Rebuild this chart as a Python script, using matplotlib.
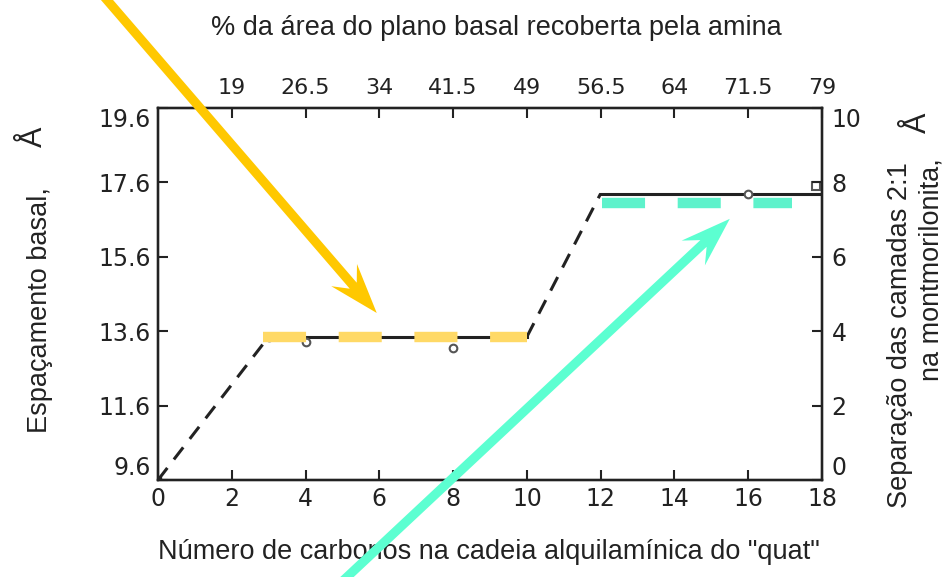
import numpy as np
import matplotlib
matplotlib.use("Agg")
import matplotlib.pyplot as plt
from matplotlib.patches import Polygon

# --- data -------------------------------------------------------------
carbon_ticks = [0, 2, 4, 6, 8, 10, 12, 14, 16, 18]
spacing_ticks = [9.6, 11.6, 13.6, 15.6, 17.6, 19.6]
separation_ticks = [0, 2, 4, 6, 8, 10]
coverage_positions = [2, 4, 6, 8, 10, 12, 14, 16, 18]
coverage_labels = ["19", "26.5", "34", "41.5", "49", "56.5", "64", "71.5", "79"]

# basal spacing curve (Å) versus number of carbons
rise1_x, rise1_y = [0, 3], [9.6, 13.45]
plateau1_x, plateau1_y = [3, 10], [13.45, 13.45]
rise2_x, rise2_y = [10, 12], [13.45, 17.3]
plateau2_x, plateau2_y = [12, 18], [17.3, 17.3]

# measured points
circle_x = [3, 4, 8, 16]
circle_y = [13.45, 13.3, 13.15, 17.3]
square_x = [17.85]
square_y = [17.5]

# highlighted plateaus
mono_x, mono_y = [2.85, 10.0], [13.45, 13.45]
bi_x, bi_y = [12.03, 17.2], [17.05, 17.05]

# --- figure -----------------------------------------------------------
W, H = 951, 577
fig = plt.figure(figsize=(W / 100, H / 100), dpi=100)
fig.patch.set_facecolor("white")
ax = fig.add_axes([158 / W, 1 - 480 / H, (822 - 158) / W, (480 - 108) / H])

ink = "#222222"
font = ["Liberation Sans", "DejaVu Sans"]
tick_font = ["DejaVu Sans"]
title_size = 19.5

ax.set_xlim(0, 18)
ax.set_ylim(9.6, 19.6)

ax.plot(rise1_x, rise1_y, color=ink, lw=2.2, ls=(0, (5, 3.5)), zorder=3)
ax.plot(plateau1_x, plateau1_y, color=ink, lw=2.2, zorder=3)
ax.plot(rise2_x, rise2_y, color=ink, lw=2.2, ls=(0, (5, 3.5)), zorder=3)
ax.plot(plateau2_x, plateau2_y, color=ink, lw=2.2, zorder=3)
ax.plot(circle_x, circle_y, ls="none", marker="o", ms=5.5, mfc="white",
        mec="#555555", mew=1.5, zorder=4)
ax.plot(square_x, square_y, ls="none", marker="s", ms=5.5, mfc="white",
        mec="#555555", mew=1.5, zorder=4)
ax.plot([0], [9.6], ls="none", marker="s", ms=4, color=ink, zorder=4)

lw_hl = 7.5
ax.plot(mono_x, mono_y, color="#FFD966", lw=lw_hl, solid_capstyle="butt",
        dash_capstyle="butt", ls=(0, (31 / lw_hl, 23.5 / lw_hl)), zorder=5)
ax.plot(bi_x, bi_y, color="#5EF2CB", lw=lw_hl, solid_capstyle="butt",
        dash_capstyle="butt", ls=(0, (31 / lw_hl, 23.5 / lw_hl)), zorder=5)

for s in ax.spines.values():
    s.set_linewidth(1.6)
    s.set_color(ink)

ax.set_xticks(carbon_ticks)
ax.set_xticklabels([str(c) for c in carbon_ticks])
ax.set_yticks(spacing_ticks)
ax.set_yticklabels([f"{v:.1f}" for v in spacing_ticks])
ax.tick_params(direction="in", length=7, width=1.5, colors=ink, labelsize=17)
ax.tick_params(axis="x", pad=5)
ax.tick_params(axis="y", pad=5)
for lab in ax.get_xticklabels() + ax.get_yticklabels():
    lab.set_family(tick_font)

axr = ax.twinx()
axr.set_ylim(0, 10)
axr.set_yticks(separation_ticks)
axr.set_yticklabels([str(v) for v in separation_ticks])
axr.tick_params(direction="in", length=7, width=1.5, colors=ink, labelsize=17, pad=7)
for lab in axr.get_yticklabels():
    lab.set_family(tick_font)

# end labels of the vertical scales sit just inside the frame
for a in (ax, axr):
    labs = a.get_yticklabels()
    labs[0].set_va("bottom")
    labs[-1].set_va("top")

axt = ax.twiny()
axt.set_xlim(0, 18)
axt.set_xticks(coverage_positions)
axt.set_xticklabels(coverage_labels)
axt.tick_params(direction="in", length=7, width=1.5, colors=ink, labelsize=16, pad=7)
for lab in axt.get_xticklabels():
    lab.set_family(tick_font)
for a in (axr, axt):
    for s in a.spines.values():
        s.set_linewidth(1.6)
        s.set_color(ink)

# --- titles -----------------------------------------------------------
fig.text(496 / W, 1 - 28 / H, "% da área do plano basal recoberta pela amina",
         ha="center", va="center", fontsize=title_size, color=ink, family=font)
fig.text(489 / W, 1 - 552 / H, 'Número de carbonos na cadeia alquilamínica do "quat"',
         ha="center", va="center", fontsize=title_size, color=ink, family=font)
fig.text(40 / W, 1 - 310 / H, "Espaçamento basal,", rotation=90,
         ha="center", va="center", fontsize=title_size, color=ink, family=font)
fig.text(34 / W, 1 - 137 / H, "Å", rotation=90,
         ha="center", va="center", fontsize=22, color=ink, family=font)
fig.text(900 / W, 1 - 162 / H, "Separação das camadas 2:1", rotation=90,
         ha="center", va="top", fontsize=title_size, color=ink, family=font)
fig.text(932 / W, 1 - 158 / H, "na montmorilonita,", rotation=90,
         ha="center", va="top", fontsize=title_size, color=ink, family=font)
fig.text(918 / W, 1 - 123 / H, "Å", rotation=90,
         ha="center", va="center", fontsize=22, color=ink, family=font)


# --- pointer arrows ---------------------------------------------------
def pointer(tip_data, tail_px, color):
    tip = ax.transData.transform(tip_data)
    tail = np.array([tail_px[0], H - tail_px[1]], dtype=float)
    u = (tip - tail) / np.hypot(*(tip - tail))
    n = np.array([-u[1], u[0]])
    tail = tail - 15 * u
    w, L, Hh, Ln = 4.6, 50, 17, 36
    pts = [tail + w * n, tip - Ln * u + w * n, tip - L * u + Hh * n, tip,
           tip - L * u - Hh * n, tip - Ln * u - w * n, tail - w * n]
    pts = fig.transFigure.inverted().transform(np.array(pts))
    fig.add_artist(Polygon(pts, closed=True, transform=fig.transFigure,
                           facecolor=color, edgecolor="none", zorder=10))


pointer((5.93, 14.09), (107, 0), "#FFC800")
pointer((15.5, 16.62), (347, 577), "#5CFFD1")

fig.savefig("out.png", dpi=100, facecolor="white")
